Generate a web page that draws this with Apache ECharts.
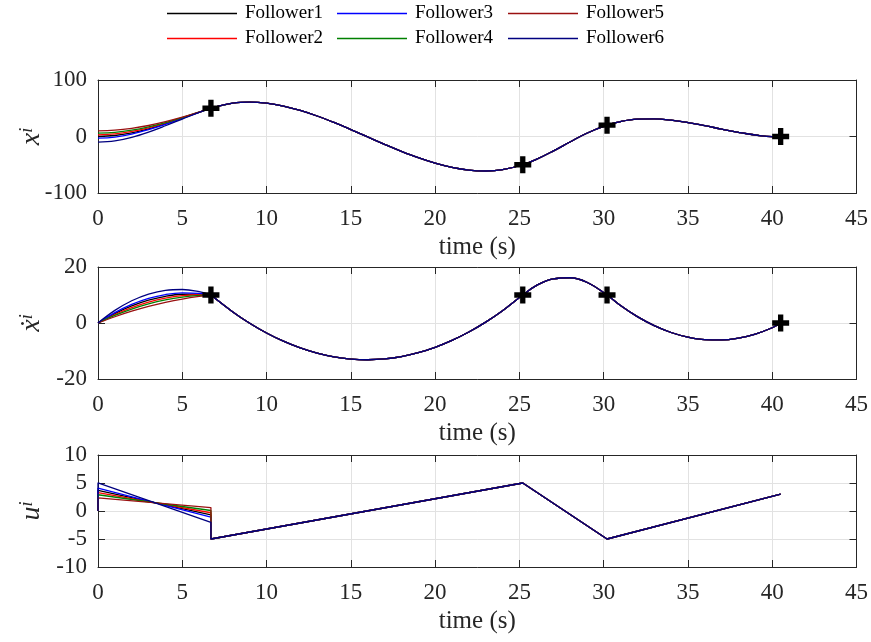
<!DOCTYPE html>
<html>
<head>
<meta charset="utf-8">
<script src="https://cdn.jsdelivr.net/npm/echarts@6/dist/echarts.min.js"></script>
<style>
  html, body { margin: 0; padding: 0; background: #fff; }
  #chart { width: 871px; height: 642px; }
</style>
</head>
<body>
<div id="chart"></div>
<script>
// ---- data ----
const followerNames = ['Follower1', 'Follower2', 'Follower3', 'Follower4', 'Follower5', 'Follower6'];
const followerColors = ['#000000', '#ff0000', '#0000ff', '#008000', '#9a1010', '#000080'];

// transient phase, before the first waypoint
const tTransient = [0, 1, 2, 3, 4, 5, 6, 6.7];
const xF1 = [0, 1.74, 6.52, 13.68, 22.56, 32.51, 42.87, 50];
const xF2 = [3, 4.56, 8.88, 15.41, 23.63, 32.99, 42.96, 50];
const xF3 = [-3, -1.08, 4.16, 11.95, 21.49, 32.03, 42.77, 50];
const xF4 = [6, 7.38, 11.23, 17.15, 24.70, 33.47, 43.05, 50];
const xF5 = [10, 11.14, 14.38, 19.46, 26.12, 34.11, 43.16, 50];
const xF6 = [-10, -7.66, -1.34, 7.90, 19.0, 30.91, 42.57, 50];

const vF1 = [0, 3.37, 6.08, 8.13, 9.53, 10.26, 10.34, 10];
const vF2 = [0, 3.03, 5.52, 7.47, 8.88, 9.75, 10.09, 10];
const vF3 = [0, 3.71, 6.64, 8.80, 10.17, 10.77, 10.59, 10];
const vF4 = [0, 2.69, 4.95, 6.80, 8.23, 9.24, 9.84, 10];
const vF5 = [0, 2.23, 4.20, 5.92, 7.37, 8.56, 9.50, 10];
const vF6 = [0, 4.51, 7.96, 10.35, 11.68, 11.96, 11.18, 10];

// control input: value right after t=0 and value just before the first waypoint
const uStart = [3.70, 3.30, 4.10, 2.90, 2.36, 5.04];
const uEnd = [-0.71, -0.31, -1.11, 0.09, 0.62, -2.05];

// common trajectory once all followers have reached consensus
const tCommon = [6.7, 8, 9, 10, 11, 12, 13, 14, 15, 16, 17, 18, 19, 20, 21, 22, 23, 24, 25.2,
                 26, 27, 28, 29, 30.2, 31, 32, 33, 34, 35, 36, 37, 38, 39, 40, 40.5];
const xCommon = [50, 58.97, 60.87, 59.01, 53.94, 46.19, 36.30, 24.82, 12.29, -0.76, -13.78, -26.24,
                 -37.58, -47.28, -54.79, -59.57, -61.07, -58.77, -50, -40.57, -25.84, -9.72, 5.81, 20,
                 26.47, 30.66, 31.24, 29.0, 24.72, 19.16, 13.1, 7.33, 2.62, -0.2, 0];
const vCommon = [10, 3.96, -0.07, -3.56, -6.50, -8.91, -10.77, -12.10, -12.88, -13.12, -12.83, -11.99,
                 -10.61, -8.69, -6.23, -3.23, 0.31, 4.39, 10, 13.36, 15.76, 16.16, 14.56, 10,
                 6.25, 2.26, -0.96, -3.39, -5.05, -5.94, -6.04, -5.37, -3.93, -1.70, 0];
const tUCommon = [6.7, 25.2, 30.2, 40.5];
const uCommon = [-5, 5, -5, 3];

// waypoints
const tWay = [6.7, 25.2, 30.2, 40.5];
const xWay = [50, -50, 20, 0];
const vWay = [10, 10, 10, 0];

const xTransient = [xF1, xF2, xF3, xF4, xF5, xF6];
const vTransient = [vF1, vF2, vF3, vF4, vF5, vF6];

// ---- styling ----
const FONT = '"Liberation Serif", "Times New Roman", serif';
const AXIS_COLOR = '#262626';
const GRID_COLOR = '#e2e2e2';
const PLUS = 'path://M0,5.5 H5.5 V0 H10.5 V5.5 H16 V10.5 H10.5 V16 H5.5 V10.5 H0 Z';

const gridDefs = [
  { left: 98, right: 14, top: 80, height: 113 },
  { left: 98, right: 14, top: 267, height: 112 },
  { left: 98, right: 14, top: 455, height: 112 }
];
const yRanges = [
  { min: -100, max: 100, interval: 100 },
  { min: -20, max: 20, interval: 20 },
  { min: -10, max: 10, interval: 5 }
];
const yNames = ['{v|x}{s|i}', '{v|ẋ}{s|i}', '{v|u}{s|i}'];

const xAxes = [];
const yAxes = [];
gridDefs.forEach((g, gi) => {
  const tick = { show: true, inside: true, length: 7, lineStyle: { color: AXIS_COLOR, width: 1 } };
  const line = { show: true, onZero: false, lineStyle: { color: AXIS_COLOR, width: 1 } };
  xAxes.push({
    type: 'value', gridIndex: gi, position: 'bottom', min: 0, max: 45, interval: 5,
    axisLine: line, axisTick: tick,
    axisLabel: { color: AXIS_COLOR, fontFamily: FONT, fontSize: 23, margin: 14 },
    splitLine: { show: true, lineStyle: { color: GRID_COLOR, width: 1 } },
    name: 'time (s)', nameLocation: 'middle', nameGap: 42, nameMoveOverlap: false,
    nameTextStyle: { color: AXIS_COLOR, fontFamily: FONT, fontSize: 25 }
  });
  xAxes.push({
    type: 'value', gridIndex: gi, position: 'top', min: 0, max: 45, interval: 5,
    axisLine: line, axisTick: tick, axisLabel: { show: false }, splitLine: { show: false }
  });
  const r = yRanges[gi];
  yAxes.push({
    type: 'value', gridIndex: gi, position: 'left', min: r.min, max: r.max, interval: r.interval,
    axisLine: line, axisTick: tick,
    axisLabel: { color: AXIS_COLOR, fontFamily: FONT, fontSize: 23, margin: 11 },
    splitLine: { show: true, lineStyle: { color: GRID_COLOR, width: 1 } },
    name: yNames[gi], nameLocation: 'middle', nameRotate: 90, nameGap: 52, nameMoveOverlap: false,
    nameTextStyle: {
      color: AXIS_COLOR,
      rich: {
        v: { fontFamily: FONT, fontStyle: 'italic', fontSize: 28, color: AXIS_COLOR, lineHeight: 28 },
        s: { fontFamily: FONT, fontStyle: 'italic', fontSize: 18, color: AXIS_COLOR, verticalAlign: 'top', lineHeight: 28 }
      }
    }
  });
  yAxes.push({
    type: 'value', gridIndex: gi, position: 'right', min: r.min, max: r.max, interval: r.interval,
    axisLine: line, axisTick: tick, axisLabel: { show: false }, splitLine: { show: false }
  });
});

const pairs = (ts, vs) => ts.map((t, k) => [t, vs[k]]);
const series = [];
followerNames.forEach((name, i) => {
  const base = {
    name: name, type: 'line', showSymbol: false, symbol: 'none', animation: false,
    color: followerColors[i], lineStyle: { color: followerColors[i], width: 1.3 }, z: 2 + i * 0.01
  };
  // position
  series.push(Object.assign({}, base, {
    xAxisIndex: 0, yAxisIndex: 0, smooth: 0.4,
    data: pairs(tTransient, xTransient[i]).concat(pairs(tCommon.slice(1), xCommon.slice(1)))
  }));
  // velocity: transient part and common part (corner at the first waypoint)
  series.push(Object.assign({}, base, {
    xAxisIndex: 2, yAxisIndex: 2, smooth: 0.4, data: pairs(tTransient, vTransient[i])
  }));
  series.push(Object.assign({}, base, {
    xAxisIndex: 2, yAxisIndex: 2, smooth: 0.4, data: pairs(tCommon, vCommon)
  }));
  // control input
  series.push(Object.assign({}, base, {
    xAxisIndex: 4, yAxisIndex: 4, smooth: false,
    data: [[0, 0], [0, uStart[i]], [6.7, uEnd[i]]].concat(pairs(tUCommon, uCommon))
  }));
});

const wayStyle = {
  type: 'scatter', symbol: PLUS, symbolSize: 17, animation: false, silent: true,
  itemStyle: { color: '#000000', opacity: 1 }, z: 5
};
series.push(Object.assign({}, wayStyle, { name: 'xWaypoints', xAxisIndex: 0, yAxisIndex: 0, data: pairs(tWay, xWay) }));
series.push(Object.assign({}, wayStyle, { name: 'vWaypoints', xAxisIndex: 2, yAxisIndex: 2, data: pairs(tWay, vWay) }));

const legendSlots = [
  ['Follower1', 167, 4], ['Follower3', 337, 4], ['Follower5', 508, 4],
  ['Follower2', 167, 29], ['Follower4', 337, 29], ['Follower6', 508, 29]
];
const legends = legendSlots.map(([name, left, top]) => ({
  data: [name], left: left, top: top, padding: 0, itemWidth: 70, itemHeight: 1.3,
  icon: 'rect', selectedMode: false,
  textStyle: { color: '#000000', fontFamily: FONT, fontSize: 19, padding: [0, 0, 0, 3] }
}));

const chart = echarts.init(document.getElementById('chart'), null, { renderer: 'canvas' });
chart.setOption({
  animation: false,
  backgroundColor: '#ffffff',
  textStyle: { fontFamily: FONT },
  grid: gridDefs,
  xAxis: xAxes,
  yAxis: yAxes,
  legend: legends,
  series: series
});
</script>
</body>
</html>
